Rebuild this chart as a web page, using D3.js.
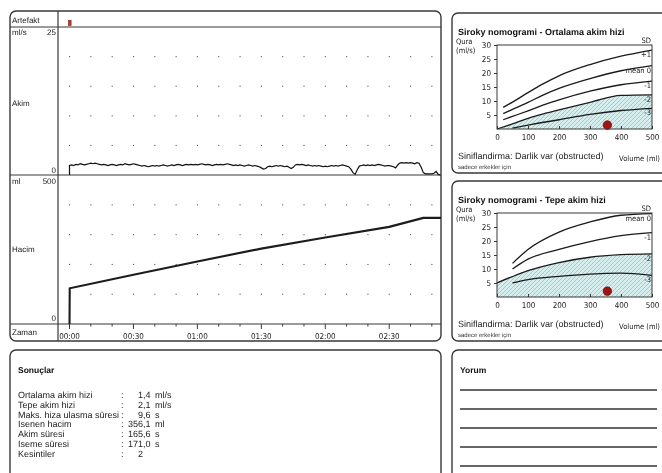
<!DOCTYPE html>
<html>
<head>
<meta charset="utf-8">
<script src="https://cdn.jsdelivr.net/npm/d3@7"></script>
<style>
body { margin: 0; background: #fff; }
svg { display: block; font-family: "Liberation Sans", Arial, sans-serif; will-change: transform; text-rendering: geometricPrecision; }
.narrow { font-family: "Liberation Sans Narrow", "DejaVu Sans Condensed", sans-serif; }
</style>
</head>
<body>
<div id="chart"></div>
<script>
// flow rate (ml/s), one reading per second from 00:00
const flowValues = [
  1.6, 1.7, 1.6, 1.8, 1.7, 1.9, 1.8, 1.7, 1.8, 1.9,
  2.0, 1.9, 2.0, 1.9, 1.8, 1.7, 1.8, 1.7, 1.6, 1.7,
  1.8, 1.7, 1.6, 1.7, 1.8, 1.7, 1.9, 1.8, 1.7, 1.8,
  1.9, 1.8, 1.7, 1.6, 1.5, 1.6, 1.5, 1.4, 1.5, 1.6,
  1.5, 1.6, 1.5, 1.6, 1.7, 1.6, 1.5, 1.6, 1.7, 1.6,
  1.7, 1.8, 1.7, 1.6, 1.7, 1.8, 1.7, 1.8, 1.7, 1.8,
  1.7, 1.8, 1.9, 1.8, 1.7, 1.8, 1.7, 1.6, 1.7, 1.8,
  1.7, 1.8, 1.7, 1.8, 1.9, 1.8, 1.7, 1.6, 1.7, 1.6,
  1.7, 1.6, 1.5, 1.6, 1.7, 1.6, 1.5, 1.6, 1.5, 1.4,
  1.2, 1.0, 1.1, 1.4, 1.5, 1.4, 1.5, 1.6, 1.5, 1.6,
  1.5, 1.4, 1.5, 1.3, 1.1, 1.3, 1.7, 1.8, 1.7, 1.8,
  1.7, 1.6, 1.7, 1.6, 1.5, 1.6, 1.5, 1.6, 1.5, 1.4,
  1.5, 1.4, 1.5, 1.6, 1.5, 1.6, 1.5, 1.6, 1.7, 1.6,
  1.5, 1.4, 1.0, 0.4, 0.1, 0.9, 1.5, 1.6, 1.7, 1.6,
  1.7, 1.6, 1.7, 1.6, 1.7, 1.8, 1.7, 1.6, 1.5, 1.6,
  1.6, 1.5, 1.4, 1.2, 1.7, 2.0, 2.1, 2.0, 2.1, 2.0,
  2.1, 2.0, 1.9, 2.1, 2.0, 1.3, 0.4, 0.2, 0.2, 0.2,
  0.2, 0.3, 0.6, 0.1, 0
];
// voided volume (s, ml)
const volumePoints = [[0, 0], [0.1, 120], [30, 165], [60, 210], [90, 253], [120, 290], [150, 326], [166, 356], [174.3, 356]];
const timeLabelSeconds = [0, 30, 60, 90, 120, 150];
const timeLabels = ["00:00", "00:30", "01:00", "01:30", "02:00", "02:30"];
const artefactSeconds = [0];

// Siroky nomogram curves [volume ml, flow ml/s]
const avgPlus1 = [[20, 7.7], [50, 9.6], [100, 13], [150, 16.2], [200, 19], [300, 23], [400, 26], [500, 28.2]];
const avgMean = [[20, 5.5], [50, 7], [100, 9.5], [150, 12.2], [200, 14.5], [300, 18], [400, 20.8], [500, 22.6]];
const avgMinus1 = [[20, 3.3], [50, 4.5], [100, 6.5], [150, 8.6], [200, 10.4], [300, 13.5], [400, 15.8], [500, 17.1]];
const avgMinus2 = [[0, 0], [50, 1.8], [100, 3.8], [150, 5.4], [200, 6.8], [300, 9.5], [400, 12], [500, 12.2]];
const avgMinus3 = [[50, 0.3], [100, 1.4], [200, 3.3], [300, 5.2], [400, 6.6], [500, 7.4]];
const peakMean = [[50, 12], [100, 17], [200, 23.2], [300, 26.8], [400, 29.2], [500, 29.8]];
const peakMinus1 = [[50, 10], [100, 13.5], [200, 17], [300, 19.8], [400, 21.9], [500, 23]];
const peakMinus2 = [[0, 5], [50, 7.3], [100, 9.4], [200, 12.3], [300, 14.2], [400, 15.1], [500, 15.4]];
const peakMinus3 = [[50, 5], [100, 6.2], [200, 7.4], [300, 8.2], [400, 8.5], [500, 7.7]];
const nomoXTicks = [0, 100, 200, 300, 400, 500];
const nomoYTicks = [5, 10, 15, 20, 25, 30];
const patientVolume = 356.1;
const patientAvgFlow = 1.4;
const patientPeakFlow = 2.1;

// results table
const resultLabels = ["Ortalama akim hizi", "Tepe akim hizi", "Maks. hiza ulasma süresi", "Isenen hacim", "Akim süresi", "Iseme süresi", "Kesintiler"];
const resultValues = ["1,4", "2,1", "9,6", "356,1", "165,6", "171,0", "2"];
const resultUnits = ["ml/s", "ml/s", "s", "ml", "s", "s", ""];

const width = 662, height = 473;
const ink = "#383838";

const svg = d3.select("#chart").append("svg")
  .attr("width", width).attr("height", height);

const defs = svg.append("defs");
const hatch = defs.append("pattern")
  .attr("id", "hatch").attr("patternUnits", "userSpaceOnUse")
  .attr("width", 4).attr("height", 4);
hatch.append("rect").attr("width", 4).attr("height", 4).attr("fill", "#d6eeee");
hatch.append("path")
  .attr("d", "M-1,1 l2,-2 M0,4 l4,-4 M3,5 l2,-2")
  .attr("stroke", "#79b5b8").attr("stroke-width", 0.6);

function box(x, y, w, h) {
  svg.append("rect")
    .attr("x", x).attr("y", y).attr("width", w).attr("height", h)
    .attr("rx", 6).attr("ry", 6)
    .attr("fill", "none").attr("stroke", ink).attr("stroke-width", 1.4);
}

// ---- main recording panel ----
const x = d3.scaleLinear().domain([-5.4, 174.3]).range([58, 441]);
const yFlow = d3.scaleLinear().domain([0, 25]).range([175, 27]);
const yVol = d3.scaleLinear().domain([0, 500]).range([324, 175]);

box(10, 11, 431, 330);
[27, 175, 324].forEach(yy => {
  svg.append("line").attr("x1", 10).attr("x2", 441).attr("y1", yy).attr("y2", yy)
    .attr("stroke", ink).attr("stroke-width", 1.2);
});
svg.append("line").attr("x1", 58).attr("x2", 58).attr("y1", 11).attr("y2", 341)
  .attr("stroke", ink).attr("stroke-width", 1.2);

const lab = svg.append("g").attr("font-size", 8).attr("fill", "#222");
lab.append("text").attr("x", 12).attr("y", 22.5).text("Artefakt");
lab.append("text").attr("x", 12).attr("y", 34.5).text("ml/s");
lab.append("text").attr("x", 56).attr("y", 34.5).attr("text-anchor", "end").text("25");
lab.append("text").attr("x", 12).attr("y", 106).text("Akim");
lab.append("text").attr("x", 56).attr("y", 173).attr("text-anchor", "end").text("0");
lab.append("text").attr("x", 12).attr("y", 183.5).text("ml");
lab.append("text").attr("x", 56).attr("y", 183.5).attr("text-anchor", "end").text("500");
lab.append("text").attr("x", 12).attr("y", 252).text("Hacim");
lab.append("text").attr("x", 56).attr("y", 321).attr("text-anchor", "end").text("0");
lab.append("text").attr("x", 12).attr("y", 335).text("Zaman");

// dotted grid
const gridSeconds = d3.range(0, 171, 10);
const dots = svg.append("g").attr("fill", "#555");
[5, 10, 15, 20].forEach(v => {
  gridSeconds.forEach(s => {
    dots.append("rect").attr("x", x(s) - 0.5).attr("y", yFlow(v) - 0.5).attr("width", 1.1).attr("height", 1.1);
  });
});
[100, 200, 300, 400].forEach(v => {
  gridSeconds.forEach(s => {
    dots.append("rect").attr("x", x(s) - 0.5).attr("y", yVol(v) - 0.5).attr("width", 1.1).attr("height", 1.1);
  });
});

// artefact marker
artefactSeconds.forEach(s => {
  svg.append("rect").attr("x", x(s) - 1).attr("y", 20.5).attr("width", 2.6).attr("height", 5)
    .attr("fill", "#c0392b").attr("stroke", "#7a1010").attr("stroke-width", 0.6);
});

// flow curve
const flowPoints = [[0, 0]].concat(flowValues.map((v, i) => [i, v]));
svg.append("path")
  .datum(flowPoints)
  .attr("fill", "none").attr("stroke", "#111").attr("stroke-width", 1.2)
  .attr("d", d3.line().x(d => x(d[0])).y(d => yFlow(d[1])));

// volume curve
svg.append("path")
  .datum(volumePoints)
  .attr("fill", "none").attr("stroke", "#1c1c1c").attr("stroke-width", 2.1)
  .attr("d", d3.line().x(d => x(d[0])).y(d => yVol(d[1])));

// time axis
const tAxis = svg.append("g");
gridSeconds.forEach(s => {
  const major = s % 30 === 0;
  tAxis.append("line").attr("x1", x(s)).attr("x2", x(s))
    .attr("y1", 324).attr("y2", major ? 329 : 326.5)
    .attr("stroke", ink).attr("stroke-width", 1);
});
tAxis.selectAll("text").data(timeLabels).enter().append("text")
  .attr("class", "narrow")
  .attr("x", (d, i) => x(timeLabelSeconds[i]))
  .attr("y", 338.5).attr("text-anchor", "middle")
  .attr("font-size", 8).attr("fill", "#222")
  .text(d => d);

// ---- Siroky nomograms ----
const xN = d3.scaleLinear().domain([0, 500]).range([497, 652]);

function nomogram(top, title, curves, hatchCurve, patientFlow) {
  box(452, top, 220, 160);
  const y = d3.scaleLinear().domain([0, 30]).range([top + 116, top + 32]);
  const g = svg.append("g");
  g.append("text").attr("x", 458).attr("y", top + 21.5)
    .attr("font-size", 9).attr("font-weight", "bold").attr("fill", "#111").text(title);
  g.append("text").attr("class", "narrow").attr("x", 456).attr("y", top + 31)
    .attr("font-size", 7.5).attr("fill", "#222").text("Qura");
  g.append("text").attr("class", "narrow").attr("x", 456).attr("y", top + 39.5)
    .attr("font-size", 7.5).attr("fill", "#222").text("(ml/s)");

  const line = d3.line().x(d => xN(d[0])).y(d => y(d[1])).curve(d3.curveMonotoneX);
  const area = d3.area().x(d => xN(d[0])).y0(y(0)).y1(d => y(d[1])).curve(d3.curveMonotoneX);

  g.append("path").datum(hatchCurve).attr("d", area).attr("fill", "url(#hatch)");

  curves.forEach(c => {
    g.append("path").datum(c.data).attr("d", line)
      .attr("fill", "none").attr("stroke", "#1a1a1a").attr("stroke-width", 1.3);
    const last = c.data[c.data.length - 1];
    g.append("text").attr("class", "narrow")
      .attr("x", 651).attr("y", y(last[1]) + 7)
      .attr("text-anchor", "end").attr("font-size", 7.5).attr("fill", "#222")
      .text(c.label);
  });
  g.append("text").attr("class", "narrow").attr("x", 651).attr("y", top + 30)
    .attr("text-anchor", "end").attr("font-size", 7.5).attr("fill", "#222").text("SD");

  g.append("rect").attr("x", xN(0)).attr("y", y(30))
    .attr("width", xN(500) - xN(0)).attr("height", y(0) - y(30))
    .attr("fill", "none").attr("stroke", ink).attr("stroke-width", 1);

  const xa = g.append("g").attr("transform", `translate(0,${y(0)})`)
    .call(d3.axisBottom(xN).tickValues(nomoXTicks).tickSize(3).tickSizeOuter(0));
  const ya = g.append("g").attr("transform", `translate(${xN(0)},0)`)
    .call(d3.axisLeft(y).tickValues(nomoYTicks).tickSize(3).tickSizeOuter(0));
  [xa, ya].forEach(a => {
    a.select(".domain").remove();
    a.selectAll("line").attr("stroke", ink);
    a.selectAll("text").attr("class", "narrow").attr("font-size", 8).attr("fill", "#222");
  });
  xa.selectAll("line").attr("y2", -3);
  xa.selectAll("text").attr("y", 5);

  g.append("circle").attr("cx", xN(patientVolume)).attr("cy", y(patientFlow))
    .attr("r", 4.3).attr("fill", "#a31212").attr("stroke", "#4a0808").attr("stroke-width", 0.6);

  g.append("text").attr("x", 458).attr("y", top + 146)
    .attr("font-size", 9).attr("fill", "#222").text("Siniflandirma: Darlik var (obstructed)");
  g.append("text").attr("class", "narrow").attr("x", 660).attr("y", top + 148)
    .attr("text-anchor", "end").attr("font-size", 7.5).attr("fill", "#222").text("Volume (ml)");
  g.append("text").attr("x", 458).attr("y", top + 156)
    .attr("font-size", 6).attr("fill", "#333").text("sadece erkekler için");
}

nomogram(13, "Siroky nomogrami - Ortalama akim hizi", [
  { data: avgPlus1, label: "+1" },
  { data: avgMean, label: "mean 0" },
  { data: avgMinus1, label: "-1" },
  { data: avgMinus2, label: "-2" },
  { data: avgMinus3, label: "-3" }
], avgMinus2, patientAvgFlow);

nomogram(181, "Siroky nomogrami - Tepe akim hizi", [
  { data: peakMean, label: "mean 0" },
  { data: peakMinus1, label: "-1" },
  { data: peakMinus2, label: "-2" },
  { data: peakMinus3, label: "-3" }
], peakMinus2, patientPeakFlow);

// ---- results ----
box(10, 350, 431, 140);
svg.append("text").attr("x", 18).attr("y", 373)
  .attr("font-size", 8.5).attr("font-weight", "bold").attr("fill", "#111").text("Sonuçlar");
const res = svg.append("g").attr("font-size", 9).attr("fill", "#222");
resultLabels.forEach((l, i) => {
  const yy = 398 + i * 9.8;
  res.append("text").attr("x", 18).attr("y", yy).text(l);
  res.append("text").attr("x", 121).attr("y", yy).text(":");
  const parts = resultValues[i].split(",");
  res.append("text").attr("x", 143).attr("y", yy).attr("text-anchor", "end").text(parts[0]);
  if (parts.length > 1) res.append("text").attr("x", 143).attr("y", yy).text("," + parts[1]);
  res.append("text").attr("x", 155).attr("y", yy).text(resultUnits[i]);
});

// ---- comment box ----
box(452, 350, 220, 140);
svg.append("text").attr("x", 460).attr("y", 373)
  .attr("font-size", 8.5).attr("font-weight", "bold").attr("fill", "#111").text("Yorum");
[390, 409, 428, 447, 466].forEach(yy => {
  svg.append("line").attr("x1", 460).attr("x2", 657).attr("y1", yy).attr("y2", yy)
    .attr("stroke", "#333").attr("stroke-width", 1.4);
});
</script>
</body>
</html>
